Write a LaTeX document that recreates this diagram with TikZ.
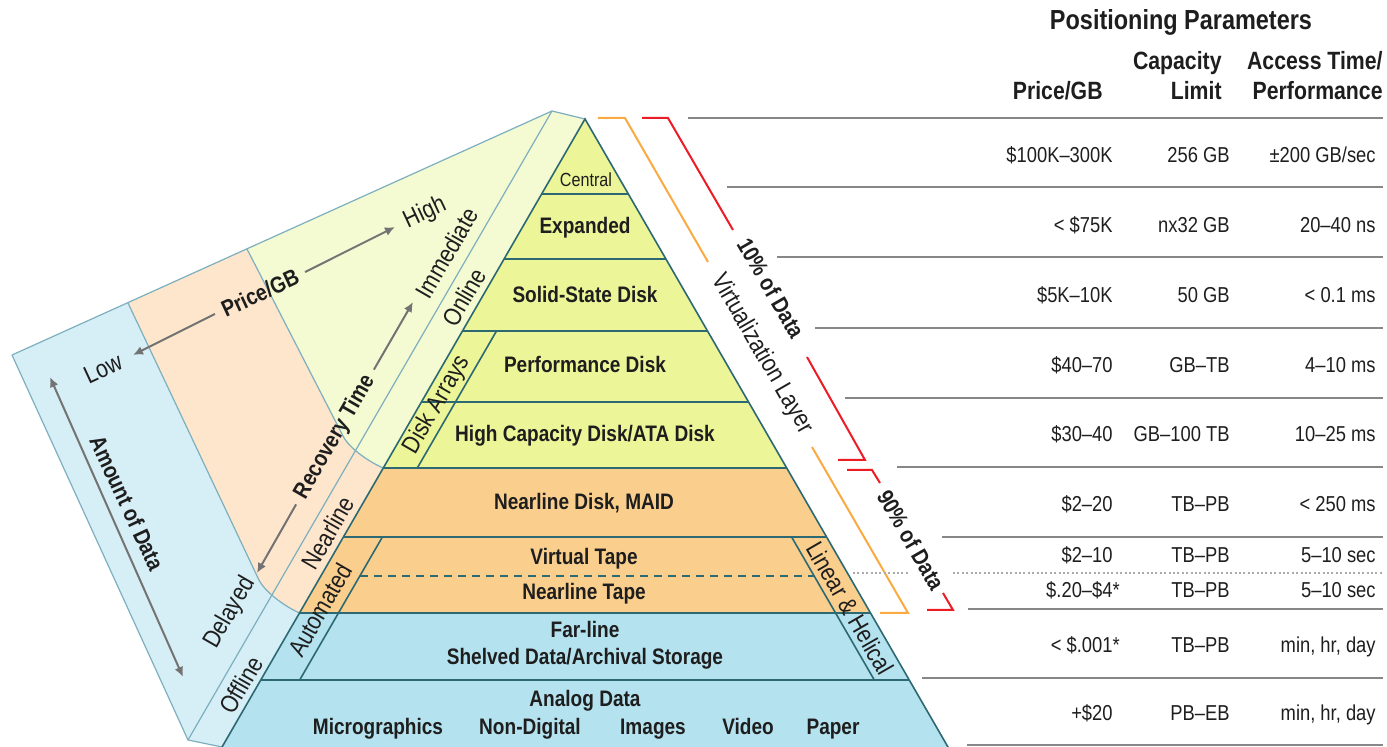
\documentclass[tikz,border=0pt]{standalone}
\usepackage{fontspec}
\setmainfont{Liberation Sans}[FakeStretch=0.85]
\usepackage{xcolor}
\usetikzlibrary{arrows.meta,calc,positioning}

\definecolor{ink}{RGB}{30,30,30}
\definecolor{tealline}{RGB}{45,105,115}
\definecolor{faceline}{RGB}{125,175,190}
\definecolor{topgreen}{RGB}{236,245,152}
\definecolor{midorange}{RGB}{250,207,142}
\definecolor{lowblue}{RGB}{180,226,238}
\definecolor{facegreen}{RGB}{244,250,210}
\definecolor{facepeach}{RGB}{253,230,204}
\definecolor{faceblue}{RGB}{214,238,245}
\definecolor{arrowgray}{RGB}{115,115,115}
\definecolor{rulegray}{RGB}{135,135,135}
\definecolor{bracketred}{RGB}{237,28,36}
\definecolor{bracketorange}{RGB}{250,170,65}

\tikzset{
  tier/.style={font=\bfseries\fontsize{11.2}{13}\selectfont, text=ink, inner sep=1pt,
               text height=8pt, text depth=2pt},
  tiersmall/.style={font=\fontsize{9.5}{11}\selectfont, text=ink, inner sep=1pt},
  side/.style={font=\fontsize{12.5}{14}\selectfont, text=ink, inner sep=1pt},
  axis/.style={font=\bfseries\fontsize{11.5}{13}\selectfont, text=ink, inner sep=4pt},
  val/.style={anchor=east, font=\fontsize{10.8}{12}\selectfont, text=ink, inner sep=0pt,
              text height=7.8pt, text depth=1.8pt},
  colhead/.style={anchor=east, font=\bfseries\fontsize{12.5}{14}\selectfont, text=ink,
                  inner sep=0pt, text height=9pt, text depth=2pt},
  rowrule/.style={draw=rulegray, line width=0.8pt},
  outline/.style={draw=tealline, line width=0.8pt},
  faceedge/.style={draw=faceline, line width=0.6pt},
  bracket/.style={line width=1pt, line join=miter}
}

\begin{document}
\begin{tikzpicture}[x=0.5pt, y=-0.5pt, >={Latex[length=5pt,width=4.5pt]}]
\useasboundingbox (0,0) rectangle (1387,747);

% corners of pyramid and folded side face
\coordinate (apex) at (585,119);
\coordinate (bl) at (220.3,750);
\coordinate (br) at (949.7,750);
\coordinate (fleft) at (12,355);
\coordinate (ftop) at (552,111);
\coordinate (fbot) at (188,740);
\coordinate (sbot) at (222,747);

% side face
\fill[faceblue] (fleft) -- (ftop) -- (apex) -- (sbot) -- (fbot) -- cycle;
\fill[facepeach] (128,303) -- (258,578) .. controls (264,592) and (286,607) .. (299.5,613)
  -- (383.3,468) .. controls (369,462) and (349,448) .. (343,436) -- (247,249) -- cycle;
\fill[facegreen] (247,249) -- (343,436) .. controls (349,448) and (369,462) .. (383.3,468)
  -- (apex) -- (ftop) -- cycle;
\draw[faceedge] (128,303) -- (258,578) .. controls (264,592) and (286,607) .. (299.5,613);
\draw[faceedge] (247,249) -- (343,436) .. controls (349,448) and (369,462) .. (383.3,468);
\draw[faceedge] (fleft) -- (ftop) -- (apex);
\draw[faceedge] (fleft) -- (fbot) -- (sbot);
\draw[faceedge] (ftop) -- (fbot);

% tiers
\fill[topgreen] (apex) -- (786.7,468) -- (383.3,468) -- cycle;
\fill[midorange] (383.3,468) -- (786.7,468) -- (870.5,613) -- (299.5,613) -- cycle;
\fill[lowblue] (299.5,613) -- (870.5,613) -- (br) -- (bl) -- cycle;
\foreach \y/\xl/\xr in {194/541.6/628.4, 259/504.1/665.9, 331/462.5/707.5,
                        402/421.4/748.6, 468/383.3/786.7, 537/343.4/826.6,
                        613/299.5/870.5, 680/260.7/909.3}
  \draw[outline] (\xl,\y) -- (\xr,\y);
\draw[outline, dash pattern=on 4pt off 3pt] (359.9,576) -- (814.1,576);
\draw[outline] (496.5,331) -- (417.3,468);
\draw[outline] (382.4,537) -- (299.7,680);
\draw[outline] (791.6,537) -- (874.3,680);
\draw[outline] (bl) -- (apex) -- (br);

% brackets
\draw[bracket, bracketorange] (598,118) -- (625,118) -- (708,262);
\draw[bracket, bracketorange] (812,447) -- (908,613) -- (880,613);
\draw[bracket, bracketred] (642,118) -- (668,118) -- (733,230);
\draw[bracket, bracketred] (807,357) -- (865,460) -- (838,460);
\draw[bracket, bracketred] (847,470) -- (872,470) -- (880,483);
\draw[bracket, bracketred] (943,593) -- (953,610) -- (927,610);

% table rules
\foreach \y/\x in {118/688, 187/727, 257/777, 328/815, 398/845, 467/897,
                   537/942, 609/968, 678/922, 745/967}
  \draw[rowrule] (\x,\y) -- (1383,\y);
\draw[rulegray!70, line width=0.6pt, dash pattern=on 1pt off 1.2pt]
  (853,573) -- (910,573) (953,573) -- (1383,573);

\begin{scope}
  % pyramid tiers
  \node[tiersmall] (central) at (586,180) {Central};
  \node[tier] (expanded) at (585,228) {Expanded};
  \node[tier] (ssd) at (585,297) {Solid-State Disk};
  \node[tier] (perf) at (585,367) {Performance Disk};
  \node[tier] (hicap) at (585,436) {High Capacity Disk/ATA Disk};
  \node[tier] (maid) at (584,504) {Nearline Disk, MAID};
  \node[tier] (vtape) at (584,559) {Virtual Tape};
  \node[tier] (ntape) at (584,594) {Nearline Tape};
  \node[tier] (farline) at (585,632) {Far-line};
  \node[tier] (shelved) [below=1pt of farline] {Shelved Data/Archival Storage};
  \node[tier] (analog) at (585,701) {Analog Data};
  \node[tier] (micro) at (378,729) {Micrographics};
  \node[tier] (nondig) at (530,729) {Non-Digital};
  \node[tier] (images) at (653,729) {Images};
  \node[tier] (video) at (748,729) {Video};
  \node[tier] (paper) at (833,729) {Paper};

  % strips
  \node[side, rotate=60] (online) at (464,297) {Online};
  \node[side, rotate=60] (nearline) at (328,533) {Nearline};
  \node[side, rotate=60] (offline) at (241,685) {Offline};
  \node[side, rotate=60] (diskarrays) at (437,405) {Disk Arrays};
  \node[side, rotate=60] (automated) at (320,610) {Automated};
  \node[side, rotate=-60] (linear) at (850,608) {Linear \& Helical};

  % side face
  \node[side, rotate=25] (low) at (103,369) {Low};
  \node[side, rotate=25] (high) at (425,213) {High};
  \node[axis, rotate=25] (pricegb) at (260,293) {Price/GB};
  \node[side, rotate=60] (immediate) at (447,253) {Immediate};
  \node[side, rotate=60] (delayed) at (230,613) {Delayed};
  \node[axis, rotate=60] (recovery) at (335,437) {Recovery Time};
  \node[axis, rotate=-65, inner sep=1pt] (amount) at (127,503) {Amount of Data};

  % right of pyramid
  \node[side, rotate=-60] (virt) at (762,354) {Virtualization Layer};
  \node[axis, rotate=-60, inner sep=1pt] (ten) at (771,288) {10\% of Data};
  \node[axis, rotate=-60, inner sep=1pt] (ninety) at (911,540) {90\% of Data};

  \coordinate (lowtip) at (133,355);
  \coordinate (hightip) at (395,227);
  \coordinate (delaytip) at (257,573);
  \coordinate (immtip) at (413,302);
  \coordinate (amttop) at (50,377);
  \coordinate (amtbot) at (183,677);
\end{scope}

% table
\node[font=\bfseries\fontsize{13.8}{15}\selectfont, text=ink] (title) at (1181,22) {Positioning Parameters};
\node[colhead] (hprice) at (1103,93) {Price/GB};
\node[colhead] (hcap) at (1222,63) {Capacity};
\node[colhead] (hlimit) at (1222,93) {Limit};
\node[colhead] (hacc) at (1383,63) {Access Time/};
\node[colhead] (hperf) at (1383,93) {Performance};
\foreach \y/\p/\c/\a [count=\i] in {
    157/{\$100K–300K}/{256 GB}/{±200 GB/sec},
    227/{< \$75K}/{nx32 GB}/{20–40 ns},
    297/{\$5K–10K}/{50 GB}/{< 0.1 ms},
    367/{\$40–70}/{GB–TB}/{4–10 ms},
    436/{\$30–40}/{GB–100 TB}/{10–25 ms},
    506/{\$2–20}/{TB–PB}/{< 250 ms},
    557/{\$2–10}/{TB–PB}/{5–10 sec},
    592/{\$.20–\$4\rlap{*}}/{TB–PB}/{5–10 sec},
    647/{< \$.001\rlap{*}}/{TB–PB}/{min, hr, day},
    715/{+\$20}/{PB–EB}/{min, hr, day}} {
  \node[val] (price\i) at (1113,\y) {\p};
  \node[val] (cap\i) at (1230,\y) {\c};
  \node[val] (acc\i) at (1376,\y) {\a};
}

\begin{scope}[every edge/.style={draw=arrowgray, line width=1pt}]
  \path [->] (pricegb.west) edge (lowtip);
  \path [->] (pricegb.east) edge (hightip);
  \path [->] (recovery.west) edge (delaytip);
  \path [->] (recovery.east) edge (immtip);
  \path [<->] (amttop) edge (amtbot);
\end{scope}

\end{tikzpicture}
\end{document}
